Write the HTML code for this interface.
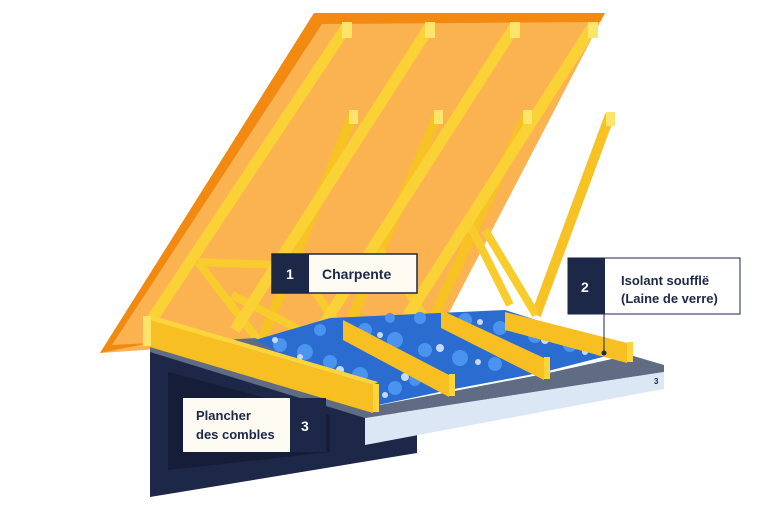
<!DOCTYPE html>
<html><head><meta charset="utf-8"><style>
html,body{margin:0;padding:0;background:#fff;}
svg{display:block}
text{font-family:"Liberation Sans",sans-serif;font-weight:bold;}
</style></head><body>
<svg width="768" height="510" viewBox="0 0 768 510" xmlns="http://www.w3.org/2000/svg">
<!-- roof panel -->
<polygon points="314,13 605,13 440,330 100,353" fill="#fbb251"/>
<polygon points="314,13 605,13 600,22 322,24 112,345 150,343 100,353" fill="#f28a12"/>
<!-- rafters back set (shorter) -->
<g stroke="#f7c224" stroke-width="10" stroke-linecap="butt">
<line x1="354" y1="112" x2="262" y2="340"/>
<line x1="439" y1="112" x2="345" y2="335"/>
<line x1="528" y1="112" x2="430" y2="325"/>
<line x1="610" y1="115" x2="536" y2="315"/>
</g>
<!-- braces -->
<g stroke="#f9cc2e" stroke-width="8">
<line x1="198" y1="262" x2="258" y2="340"/>
<line x1="198" y1="262" x2="280" y2="265"/>
<line x1="232" y1="295" x2="300" y2="330"/>
<line x1="300" y1="270" x2="345" y2="335"/>
<line x1="380" y1="250" x2="430" y2="325"/>
<line x1="470" y1="225" x2="510" y2="305"/>
<line x1="485" y1="230" x2="536" y2="315"/>
</g>
<!-- rafters front set -->
<g stroke="#fbd236" stroke-width="11">
<line x1="347" y1="26" x2="150" y2="322"/>
<line x1="430" y1="26" x2="235" y2="330"/>
<line x1="515" y1="26" x2="320" y2="330"/>
<line x1="593" y1="26" x2="405" y2="320"/>
</g>
<g fill="#fde46a">
<rect x="342" y="22" width="10" height="16"/><rect x="425" y="22" width="10" height="16"/>
<rect x="510" y="22" width="10" height="16"/><rect x="588" y="22" width="10" height="16"/>
<rect x="349" y="110" width="9" height="14"/><rect x="434" y="110" width="9" height="14"/>
<rect x="523" y="110" width="9" height="14"/><rect x="606" y="112" width="9" height="14"/>
</g>
<!-- floor base navy -->
<polygon points="150,347 417,418 417,453 150,497" fill="#1d2748"/>
<polygon points="168,372 330,415 330,452 168,470" fill="#151d38"/>
<!-- gray top strip -->
<polygon points="150,345 255,338 380,405 449,392 544,374 630,355 664,365 664,372 365,418 150,352" fill="#5f6c83"/>
<!-- light face -->
<polygon points="365,418 664,372 664,389 365,445" fill="#dce7f6"/>
<text x="654" y="384" font-size="8" fill="#1d2748">3</text>
<!-- insulation -->
<polygon points="255,340 330,318 505,310 630,350 544,372 449,390 378,405" fill="#2a6cd0"/>
<g fill="#4a93ee">
<circle cx="280" cy="345" r="7"/><circle cx="305" cy="352" r="8"/><circle cx="330" cy="362" r="7"/><circle cx="360" cy="375" r="8"/><circle cx="395" cy="388" r="7"/><circle cx="415" cy="380" r="6"/>
<circle cx="365" cy="330" r="7"/><circle cx="395" cy="340" r="8"/><circle cx="425" cy="350" r="7"/><circle cx="460" cy="358" r="8"/><circle cx="495" cy="364" r="7"/><circle cx="525" cy="360" r="6"/>
<circle cx="465" cy="320" r="7"/><circle cx="500" cy="328" r="7"/><circle cx="535" cy="336" r="7"/><circle cx="570" cy="345" r="7"/><circle cx="600" cy="350" r="6"/>
<circle cx="320" cy="330" r="6"/><circle cx="420" cy="318" r="6"/><circle cx="390" cy="318" r="5"/>
</g>
<g fill="#c5dbf5">
<circle cx="275" cy="340" r="3"/><circle cx="300" cy="357" r="3"/><circle cx="340" cy="370" r="4"/><circle cx="385" cy="395" r="3"/><circle cx="405" cy="377" r="4"/>
<circle cx="380" cy="335" r="3"/><circle cx="440" cy="348" r="4"/><circle cx="478" cy="362" r="3"/><circle cx="510" cy="355" r="4"/>
<circle cx="480" cy="322" r="3"/><circle cx="545" cy="340" r="4"/><circle cx="585" cy="352" r="3"/><circle cx="610" cy="350" r="3"/>
</g>
<!-- beams -->
<g>
<polygon points="143,318 373,385 373,413 143,345" fill="#f7bf22"/>
<polygon points="143,318 150,315 378,382 373,385" fill="#fcd53c"/>
<rect x="373" y="384" width="6" height="28" fill="#fcd53c"/>
<polygon points="343,320 449,375 449,397 343,340" fill="#f7bf22"/>
<rect x="449" y="374" width="6" height="22" fill="#fcd53c"/>
<polygon points="441,310 544,358 544,380 441,328" fill="#f7bf22"/>
<rect x="544" y="357" width="6" height="22" fill="#fcd53c"/>
<polygon points="505,312 627,343 627,363 505,330" fill="#f7bf22"/>
<rect x="627" y="342" width="6" height="20" fill="#fcd53c"/>
<rect x="143" y="316" width="8" height="30" fill="#fde46a"/>
</g>
<!-- label 1 -->
<rect x="272" y="254" width="145" height="39" fill="#fdfaf1" stroke="#1d2748" stroke-width="1.5"/>
<rect x="272" y="254" width="37" height="39" fill="#1d2748"/>
<text x="286" y="279" font-size="14" fill="#fff">1</text>
<text x="322" y="279" font-size="14" fill="#1d2748">Charpente</text>
<!-- label 2 -->
<line x1="604" y1="314" x2="604" y2="353" stroke="#1d2748" stroke-width="1"/>
<circle cx="604" cy="353" r="2.5" fill="#1d2748"/>
<rect x="568" y="258" width="172" height="56" fill="#fff" stroke="#1d2748" stroke-width="1"/>
<rect x="568" y="258" width="37" height="56" fill="#1d2748"/>
<text x="581" y="292" font-size="14" fill="#fff">2</text>
<text x="621" y="285" font-size="13" fill="#1d2748">Isolant soufflë</text>
<text x="621" y="303" font-size="13" fill="#1d2748">(Laine de verre)</text>
<!-- label 3 -->
<rect x="183" y="398" width="143" height="54" fill="#1d2748"/>
<rect x="183" y="398" width="107" height="54" fill="#fdfaf1"/>
<text x="301" y="431" font-size="14" fill="#fff">3</text>
<text x="196" y="420" font-size="13" fill="#1d2748">Plancher</text>
<text x="196" y="439" font-size="13" fill="#1d2748">des combles</text>
</svg>
</body></html>
